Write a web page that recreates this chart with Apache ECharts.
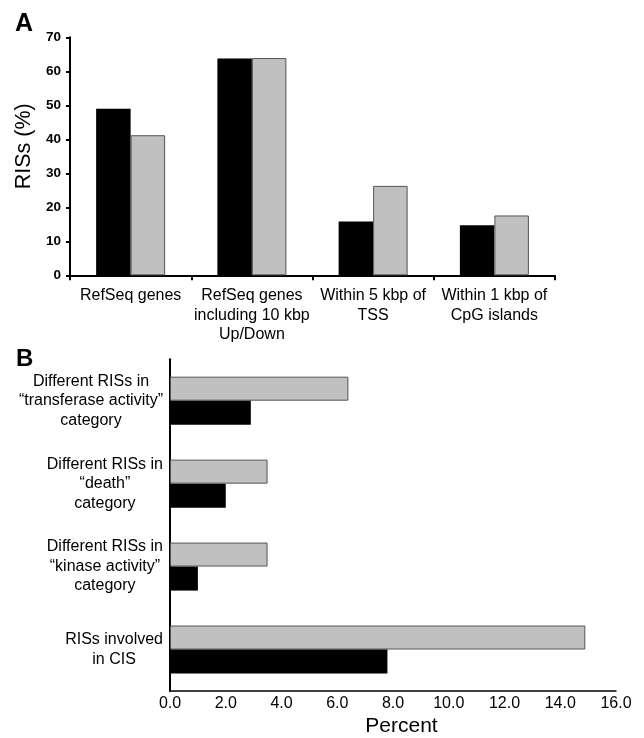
<!DOCTYPE html>
<html>
<head>
<meta charset="utf-8">
<script src="https://cdn.jsdelivr.net/npm/echarts@6/dist/echarts.min.js"></script>
<style>
  html, body { margin: 0; padding: 0; background: #fff; }
  #chart { width: 644px; height: 738px; }
</style>
</head>
<body>
<div id="chart"></div>
<script>
// Panel A data
const catsA = ['RefSeq genes', 'RefSeq genes\nincluding 10 kbp\nUp/Down', 'Within 5 kbp of\nTSS', 'Within 1 kbp of\nCpG islands'];
const blackA = [49.0, 63.8, 15.8, 14.7];
const grayA = [41.2, 63.9, 26.3, 17.6];
const ticksA = { min: 0, max: 70, interval: 10 };

// Panel B data
const catsB = ['Different RISs in\n“transferase activity”\ncategory', 'Different RISs in\n“death”\ncategory', 'Different RISs in\n“kinase activity”\ncategory', 'RISs involved\nin CIS'];
const grayB = [6.4, 3.5, 3.5, 14.9];
const blackB = [2.9, 2.0, 1.0, 7.8];
const ticksB = { min: 0, max: 16, interval: 2 };

const FONT = '"Liberation Sans", Arial, Helvetica, sans-serif';
const chart = echarts.init(document.getElementById('chart'), null, { renderer: 'canvas' });

const blackStyle = { color: '#000000', borderColor: '#000000', borderWidth: 0 };
const grayStyle = { color: '#c0c0c0', borderColor: '#555555', borderWidth: 1 };

chart.setOption({
  animation: false,
  backgroundColor: '#ffffff',
  textStyle: { fontFamily: FONT, color: '#000' },
  title: [
    { text: 'A', left: 10, top: 7, textStyle: { fontFamily: FONT, fontSize: 25, fontWeight: 'bold', color: '#000' } },
    { text: 'B', left: 11, top: 342, textStyle: { fontFamily: FONT, fontSize: 24, fontWeight: 'bold', color: '#000' } }
  ],
  grid: [
    { left: 70, right: 89, top: 37.3, bottom: 462.7, containLabel: false },
    { left: 170, right: 28, top: 359.2, bottom: 44, containLabel: false }
  ],
  xAxis: [
    {
      gridIndex: 0, type: 'category', data: catsA,
      axisLine: { lineStyle: { color: '#000', width: 2 } },
      axisTick: { show: true, length: 5, lineStyle: { color: '#000', width: 2 } },
      axisLabel: { interval: 0, margin: 11, fontSize: 16, lineHeight: 19.5, color: '#000', fontFamily: FONT },
      splitLine: { show: false }
    },
    {
      gridIndex: 1, type: 'value', min: ticksB.min, max: ticksB.max, interval: ticksB.interval,
      name: 'Percent', nameLocation: 'middle', nameGap: 25,
      nameTextStyle: { fontSize: 21, color: '#000', fontFamily: FONT, padding: [0, 0, 0, 17] },
      axisLine: { show: true, lineStyle: { color: '#000', width: 1.5 } },
      axisTick: { show: false },
      axisLabel: { margin: 5, fontSize: 16, color: '#000', fontFamily: FONT, formatter: v => v.toFixed(1) },
      splitLine: { show: false }
    }
  ],
  yAxis: [
    {
      gridIndex: 0, type: 'value', min: ticksA.min, max: ticksA.max, interval: ticksA.interval,
      name: 'RISs (%)', nameLocation: 'middle', nameGap: 32,
      nameTextStyle: { fontSize: 21.5, color: '#000', fontFamily: FONT, padding: [0, 0, 0, 20] },
      axisLine: { show: true, lineStyle: { color: '#000', width: 2 } },
      axisTick: { show: true, length: 4, lineStyle: { color: '#000', width: 2 } },
      axisLabel: { margin: 9, fontSize: 13.5, fontWeight: 'bold', color: '#000', fontFamily: FONT },
      splitLine: { show: false }
    },
    {
      gridIndex: 1, type: 'category', data: catsB, inverse: true,
      axisLine: { show: true, lineStyle: { color: '#000', width: 2 } },
      axisTick: { show: false },
      axisLabel: {
        interval: 0, margin: 7, align: 'right', fontSize: 16, lineHeight: 19.5, color: '#000', fontFamily: FONT,
        formatter: v => v.split('\n').map(l => '{c|' + l + '}').join('\n'),
        rich: { c: { align: 'center', fontSize: 16, lineHeight: 19.5, color: '#000', fontFamily: FONT } }
      },
      splitLine: { show: false }
    }
  ],
  series: [
    { type: 'bar', xAxisIndex: 0, yAxisIndex: 0, data: blackA, barWidth: 34.5, barGap: '0%', itemStyle: blackStyle },
    { type: 'bar', xAxisIndex: 0, yAxisIndex: 0, data: grayA, barWidth: 34.5, barGap: '0%', itemStyle: grayStyle },
    { type: 'bar', xAxisIndex: 1, yAxisIndex: 1, data: grayB, barWidth: 24, barGap: '0%', itemStyle: grayStyle },
    { type: 'bar', xAxisIndex: 1, yAxisIndex: 1, data: blackB, barWidth: 24, barGap: '0%', itemStyle: blackStyle }
  ]
});
</script>
</body>
</html>
